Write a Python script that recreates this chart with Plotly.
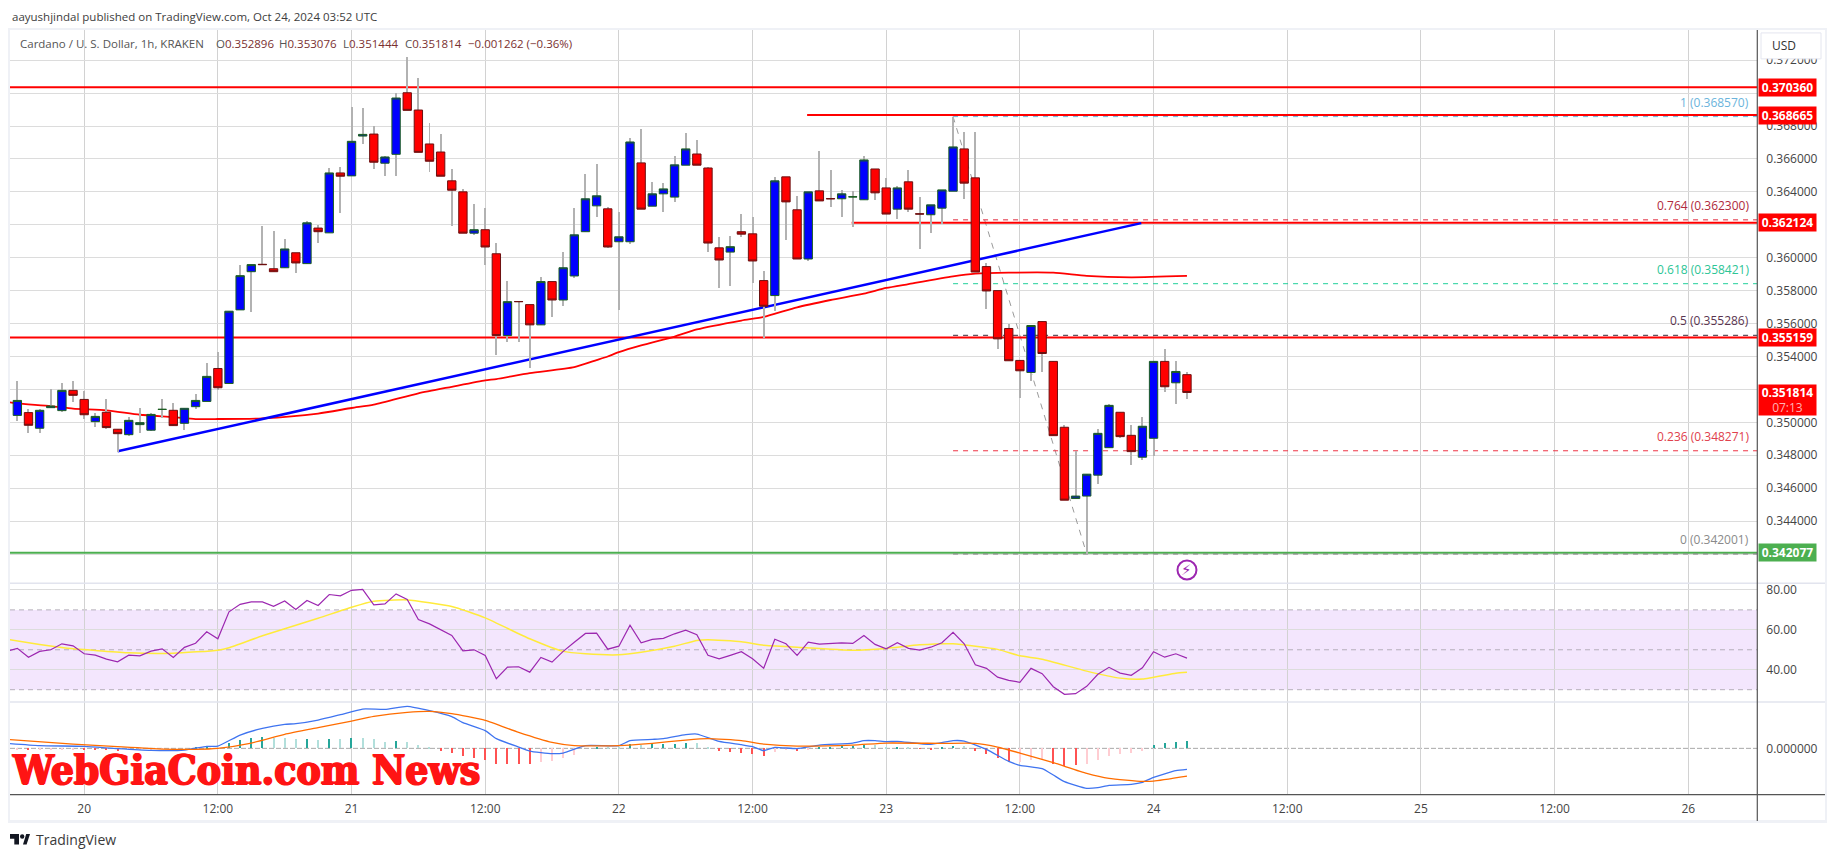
import plotly.graph_objects as go
import pandas as pd

W, H = 1835, 857
FONT = "Open Sans"

# ---------- data ----------
first_hour = -6
opens = [.35042,.35059,.34964,.35089,.35071,.35194,.35139,.35004,.35061,.34958,.34925,.34986,.34952,.35078,.35073,.34994,.35095,.35127,.35327,.35236,
.35683,.35915,.35960,.35933,.35939,.36030,.35964,.36180,.36151,.36515,.36497,.36739,.36751,.36574,.36628,.37002,.36897,.36691,.36642,.36467,.36400,
.36149,.36170,.36024,.35527,.35734,.35715,.35592,.35855,.35743,.35889,.36158,.36315,.36297,.36097,.36097,.36576,.36313,.36388,.36368,.36562,.36630,
.36545,.36060,.36034,.36158,.36145,.35861,.35770,.36491,.36291,.35992,.36406,.36359,.36358,.36369,.36352,.36539,.36424,.36295,.36461,.36267,.36261,
.36301,.36404,.36661,.36485,.35946,.35800,.35570,.35376,.35303,.35612,.35370,.34970,.34537,.34552,.34679,.34846,.35061,.34921,.34788,.34903,.35370,.35240,.352896]
highs = [.35250,.35083,.35083,.35200,.35238,.35250,.35190,.35057,.35141,.34958,.35030,.35085,.35059,.35141,.35117,.35085,.35170,.35360,.35428,.35675,
.35954,.35958,.36196,.36160,.36117,.36030,.36224,.36200,.36547,.36553,.36917,.36907,.36802,.36620,.36998,.37220,.37093,.36820,.36753,.36539,.36418,
.36325,.36305,.36091,.35857,.35740,.35715,.35885,.35855,.36038,.36305,.36509,.36570,.36309,.36281,.36729,.36784,.36463,.36457,.36620,.36760,.36715,
.36554,.36129,.36135,.36267,.36250,.35921,.36493,.36491,.36376,.36400,.36648,.36535,.36412,.36406,.36620,.36539,.36487,.36438,.36535,.36372,.36321,
.36412,.36857,.36766,.36766,.35968,.35800,.35598,.35376,.35588,.35618,.35370,.34984,.34824,.34685,.34960,.35109,.35061,.34984,.35032,.35370,.35444,.35370,.353076]
lows = [.35008,.34937,.34937,.35085,.35065,.35123,.35020,.34974,.34958,.34822,.34917,.34937,.34947,.35028,.34980,.34954,.35083,.35127,.35194,.35236,
.35683,.35671,.35955,.35915,.35939,.35907,.35964,.36089,.36151,.36270,.36497,.36689,.36537,.36499,.36499,.36895,.36640,.36523,.36495,.36190,.36149,
.36139,.35954,.35410,.35489,.35489,.35331,.35592,.35640,.35705,.35877,.36158,.36250,.36059,.35685,.36085,.36295,.36313,.36277,.36337,.36562,.36562,
.36038,.35816,.35826,.36125,.35846,.35513,.35675,.36105,.35992,.35978,.36345,.36311,.36250,.36184,.36352,.36349,.36265,.36238,.36277,.36053,.36150,
.36206,.36404,.36356,.35913,.35689,.35445,.35374,.35149,.35250,.35307,.34919,.34527,.34537,.34200,.34628,.34846,.34903,.34743,.34774,.34796,.35186,.35113,.351444]
closes = [.35133,.34982,.35073,.35099,.35194,.35164,.35046,.35036,.34968,.34931,.35012,.34998,.35048,.35079,.34980,.35085,.35133,.35279,.35210,.35675,
.35891,.35958,.35958,.35915,.36053,.35968,.36212,.36158,.36515,.36495,.36707,.36749,.36580,.36612,.36970,.36895,.36640,.36586,.36495,.36410,.36149,
.36170,.36065,.35527,.35733,.35733,.35592,.35855,.35743,.35939,.36139,.36358,.36376,.36065,.36127,.36703,.36295,.36388,.36418,.36564,.36661,.36562,
.36089,.35986,.36067,.36143,.35980,.35705,.36467,.36339,.35992,.36400,.36345,.36358,.36388,.36370,.36594,.36394,.36265,.36424,.36295,.36265,.36321,
.36412,.36673,.36453,.35913,.35798,.35507,.35374,.35313,.35588,.35418,.34919,.34527,.34552,.34685,.34933,.35103,.34913,.34822,.34976,.35370,.35216,.35309,.351814]

ema_hours = [-7,-6,-3,-1,2,5,8,10,12,16,21,24,26,30,33,36,37,40,44,46,47,48,50,53,55,59,61,64,67,70,72,74,78,80,83,87,90,94,99]
ema_vals = [.35125,.35115,.35099,.35083,.35073,.35046,.35032,.35020,.35020,.35024,.35053,.35087,.35107,.35176,.35216,.35255,.35263,.35299,.35335,.35378,.35400,
.35426,.35467,.35521,.35564,.35618,.35640,.35699,.35743,.35782,.35816,.35840,.35887,.35903,.35909,.35909,.35889,.35881,.35889]

trend_hours, trend_vals = [3, 94.9], [.34824, .36210]
levels_red = [(.370360, -7), (.368665, 64.9), (.362124, 68.9), (.355159, -7)]
level_green = .342077

fib_levels = [1, .764, .618, .5, .236, 0]
fib_prices = [.368570, .362300, .358421, .355286, .348271, .342001]
fib_colors = ["#6bb4dc", "#e0283c", "#22cf9b", "#3a2a3a", "#ee3344", "#808080"]
fib_text_colors = ["#6bb4dc", "#b02a3c", "#2cc596", "#5a3550", "#e0404c", "#8a8a8a"]
fib_diag_hours, fib_diag_vals = [78, 90], [.368570, .342001]

rsi_hours = list(range(-7, 100))
rsi_vals = [49.2,50.7,46.3,49.2,50,53,52,48,47.3,45.3,44,47.3,47,49.3,50.5,46.2,51.2,53.3,59,55.5,69,72.8,74,74,71.8,74.5,70.2,74.7,72.2,77.7,77,79.8,80.3,72.5,73,78,
75.2,65.2,63,60,57.2,49.5,50,47.2,35.5,41.3,41.5,38.8,46.2,43.8,49.2,53.8,58.2,58.3,50.3,51.8,62.3,53.5,55.2,55.7,58,59.8,57.5,47.2,45.5,47.2,49,45.5,40.8,55.3,53,47.2,
53.8,52.8,53,53.5,53.2,57.2,52.7,50.5,53.5,50.7,49.8,51.3,53.5,58.7,53,42.5,40.7,36.3,34.7,33.7,40.7,38,31.5,27.7,28,31.7,37.7,41.2,38.3,37.2,41,49,46.3,48,45.8]
rsi_ma_hours = [-7,-4,-1,1,4,8,12,13,16,21,24,26,29,33,36,40,43,45,48,50,53,55,56,59,61,64,69,72,75,78,82,84,86,90,93,95,98,99]
rsi_ma_vals = [55.3,52.7,50.5,49.7,48.5,48.3,49.8,51,57,65.8,71.3,74.3,75,71.7,66,55.5,49.2,48,47.5,48.8,51.8,54.7,55,54,52.3,51.3,49.8,50.7,52.5,53,50.2,47,45.3,39.3,35.8,35.3,38.2,38.7]

macd_hours = [-7,-4,0,3,6,9,11,12,14,16,18,19,21,23,25,27,29,31,33,34,36,37,39,40,42,43,45,48,49,51,52,54,55,57,59,60,61,62,64,66,69,70,71,72,73,76,78,79,81,83,84,86,87,88,90,91,92,94,95,96,98,99]
macd_vals = [5,2.7,2,-.3,-2,-1.7,2,2.3,13.3,20,24,24.7,28.3,33.7,39.3,39,42,37.7,31.7,25.7,17.7,9.7,1.3,-2.7,-5.3,-4.7,2.7,2.7,7.7,9,9.7,13.7,14.3,7,3.7,1.7,-2.3,1,-.3,3.3,5.3,7.7,7.7,6.7,7,4,7.7,7.3,-1,-13,-17,-20.3,-26.7,-33.3,-40,-39.3,-37,-36,-34,-29,-22.3,-21]
signal_hours = [-7,-1,3,7,10,12,15,18,21,24,26,29,31,33,36,39,42,44,48,51,54,56,59,61,64,69,72,77,80,82,84,87,90,92,95,96,99]
signal_vals = [9,4.3,1.7,-.7,-1,0,5.3,14,20.7,27.3,32,36,37,34.7,28,16,6,2.7,2.7,5,8.3,9.7,7.7,4.3,2.3,3.3,5.3,5,5,1.3,-4.7,-14.3,-25,-30,-33,-32.7,-27.7]

hist_vals = [-1,-2,-1,-1,-1,-1,-1,-2,-2,-3,-2,-1,-1,-.5,0,0,.5,1,0,5,8,10,11,10,10.3,9.7,9.3,8.3,9.3,9.3,10.3,10.3,9,6.7,7.3,6,3.3,1,-2.7,-4.7,-7.3,-9.3,-11.7,-15.7,-15.7,-15.7,-15.7,-13.3,-12.3,-9.3,-6.7,0,1.6,1,.5,
4,3.7,4.3,4.3,4.3,5.3,5.3,1.3,-2.7,-3.7,-4.7,-5.7,-7.3,-3.7,-1.7,-2.7,-1,1.7,1.7,2.3,2,3,3,1,1.3,.3,-.7,-1.7,.3,2.3,2.3,-2.7,-5.7,-9.7,-13.7,-14,-11.7,-10.3,-16,-17.7,-16.7,-15.7,-11.7,-7.7,-5.3,-4.3,-2.3,3.3,5.3,6,7.3]
hist_colors = ["#ffcdd2","#ff5252","#ffcdd2","#ffcdd2","#ffcdd2","#ffcdd2","#ff5252","#ff5252","#ff5252","#ff5252","#ffcdd2","#ffcdd2","#ffcdd2","#ffcdd2","#ffcdd2","#b2dfdb","#26a69a","#26a69a","#26a69a","#26a69a","#26a69a","#26a69a","#26a69a","#b2dfdb","#b2dfdb","#b2dfdb","#26a69a","#b2dfdb","#26a69a","#b2dfdb","#26a69a","#b2dfdb","#b2dfdb","#b2dfdb","#26a69a","#b2dfdb","#b2dfdb","#b2dfdb","#ff5252","#ff5252","#ff5252","#ff5252","#ff5252","#ff5252","#ff5252","#ff5252","#ff5252","#ffcdd2","#ffcdd2","#ffcdd2","#ffcdd2","#b2dfdb","#26a69a","#b2dfdb","#b2dfdb",
"#26a69a","#b2dfdb","#26a69a","#26a69a","#26a69a","#26a69a","#b2dfdb","#b2dfdb","#ff5252","#ff5252","#ff5252","#ff5252","#ff5252","#ffcdd2","#ffcdd2","#ff5252","#ffcdd2","#26a69a","#26a69a","#26a69a","#26a69a","#26a69a","#b2dfdb","#b2dfdb","#26a69a","#b2dfdb","#ff5252","#ff5252","#26a69a","#26a69a","#b2dfdb","#ff5252","#ff5252","#ff5252","#ff5252","#ffcdd2","#ffcdd2","#ffcdd2","#ff5252","#ff5252","#ff5252","#ffcdd2","#ffcdd2","#ffcdd2","#ffcdd2","#ffcdd2","#ffcdd2","#26a69a","#26a69a","#26a69a","#26a69a"]

price_ticks = [.342,.344,.346,.348,.350,.352,.354,.356,.358,.360,.362,.364,.366,.368,.370,.372]
# ticks whose labels lie fully behind a price tag in the reference
price_tick_labels = ["","0.344000","0.346000","0.348000","0.350000","","0.354000","0.356000","0.358000","0.360000","","0.364000","0.366000","0.368000","","0.372000"]
rsi_ticks = [80, 60, 40]
time_tick_hours = list(range(0, 145, 12))
time_tick_labels = ["20","12:00","21","12:00","22","12:00","23","12:00","24","12:00","25","12:00","26"]

# ---------- helpers ----------
T0 = pd.Timestamp("2024-10-20 00:00")
def t(hours):
    return [T0 + pd.Timedelta(hours=float(h)) for h in hours]
def px(x): return x / W
def py(y): return 1 - y / H

hrs = [first_hour + i for i in range(len(opens))]
xs = t(hrs)
X_START, X_END = -6.66, 150.2
xr = t([X_START, X_END])

fig = go.Figure()

# base subplot: drawings below candles
fig.add_trace(go.Scatter(x=t(fib_diag_hours), y=fib_diag_vals, mode="lines",
                         line=dict(color="#9a9a9a", width=1, dash="6px,6px")))
for p, start in levels_red:
    fig.add_trace(go.Scatter(x=t([start, X_END]), y=[p, p], mode="lines", line=dict(color="#ff0000", width=2)))
fig.add_trace(go.Scatter(x=t([-7, X_END]), y=[level_green]*2, mode="lines", line=dict(color="#4caf50", width=2)))
for p, c in zip(fib_prices, fib_colors):
    fig.add_trace(go.Scatter(x=t([78, X_END]), y=[p, p], mode="lines", line=dict(color=c, width=1, dash="5px,5px")))
fig.add_trace(go.Scatter(x=t(ema_hours), y=ema_vals, mode="lines", line=dict(color="#ff0000", width=1.8, shape="spline", smoothing=0.6)))
fig.add_trace(go.Scatter(x=t(trend_hours), y=trend_vals, mode="lines", line=dict(color="#0000ff", width=2.5)))

# overlay subplot: wicks and bodies
fig.add_trace(go.Bar(x=xs, base=lows, y=[h - l for h, l in zip(highs, lows)], width=3600000*0.09,
                     marker=dict(color="#b2b2b2", line=dict(width=0)), yaxis="y4"))
fig.add_trace(go.Candlestick(x=xs, open=opens, close=closes,
                             high=[max(o, c) for o, c in zip(opens, closes)],
                             low=[min(o, c) for o, c in zip(opens, closes)],
                             increasing=dict(fillcolor="#0000ff", line=dict(color="#1b5e20", width=1)),
                             decreasing=dict(fillcolor="#ff0000", line=dict(color="#6d1010", width=1)),
                             whiskerwidth=0, yaxis="y4"))

# purple event marker
fig.add_trace(go.Scatter(x=t([99]), y=[.34103], mode="markers", yaxis="y4",
                         marker=dict(size=19, color="rgba(0,0,0,0)", line=dict(color="#9c27b0", width=2))))

# RSI
fig.add_trace(go.Scatter(x=t(rsi_ma_hours), y=rsi_ma_vals, mode="lines", xaxis="x2", yaxis="y2",
                         line=dict(color="#ffeb3b", width=1.5, shape="spline", smoothing=0.5)))
fig.add_trace(go.Scatter(x=t(rsi_hours), y=rsi_vals, mode="lines", xaxis="x2", yaxis="y2",
                         line=dict(color="#9c27b0", width=1.2)))
# MACD
fig.add_trace(go.Bar(x=xs, y=hist_vals, width=3600000*0.1, marker=dict(color=hist_colors, line=dict(width=0)), xaxis="x3", yaxis="y3"))
fig.add_trace(go.Scatter(x=t(macd_hours), y=macd_vals, mode="lines", xaxis="x3", yaxis="y3",
                         line=dict(color="#3f74f0", width=1.3, shape="spline", smoothing=0.5)))
fig.add_trace(go.Scatter(x=t(signal_hours), y=signal_vals, mode="lines", xaxis="x3", yaxis="y3",
                         line=dict(color="#ff6d00", width=1.3, shape="spline", smoothing=0.5)))

TOP, SEP1, SEP2, BOT, LEFT, RIGHT = 28, 582.7, 701.7, 794.5, 10, 1757.3
xcommon = dict(range=xr, tickvals=t(time_tick_hours), showgrid=True, gridcolor="#d2d2d2", gridwidth=1,
               zeroline=False, showline=False, domain=[px(LEFT), px(RIGHT)], rangeslider=dict(visible=False), ticks="")
ycommon = dict(side="right", showgrid=True, gridcolor="#dcdcdc", gridwidth=1, zeroline=False, showline=False, ticks="",
               tickfont=dict(family=FONT, size=12, color="#444444"), ticklabelstandoff=8)
main_range = [.368 - (SEP1 - 124.3)/16500, .368 + (124.3 - TOP)/16500]

shapes = []
def rect(x0, y0, x1, y1, **k):
    shapes.append(dict(type="rect", xref="paper", yref="paper", x0=px(x0), x1=px(x1), y0=py(y0), y1=py(y1), **k))
def hline(x0, x1, y, color, width=1):
    shapes.append(dict(type="line", xref="paper", yref="paper", x0=px(x0), x1=px(x1), y0=py(y), y1=py(y), line=dict(color=color, width=width)))
def vline(x, y0, y1, color, width=1):
    shapes.append(dict(type="line", xref="paper", yref="paper", x0=px(x), x1=px(x), y0=py(y0), y1=py(y1), line=dict(color=color, width=width)))

# outer frame
FC = "#eff1f6"
rect(8, 26, 1827, 28, fillcolor=FC, line=dict(width=0))
rect(8, 820, 1827, 823, fillcolor=FC, line=dict(width=0))
rect(8, 26, 10, 823, fillcolor=FC, line=dict(width=0))
rect(1825, 26, 1827, 823, fillcolor=FC, line=dict(width=0))
hline(LEFT, 1825, SEP1, "#e2e4ee", 1.5)
hline(LEFT, 1825, SEP2, "#e2e4ee", 1.5)
hline(LEFT, 1825, BOT, "#555555", 1.2)
vline(RIGHT, TOP, 821, "#555555", 1.2)

# RSI band and reference levels
shapes.append(dict(type="rect", xref="x2 domain", yref="y2", x0=0, x1=1, y0=30, y1=70, layer="below",
                   fillcolor="rgba(135,5,235,0.1)", line=dict(width=0)))
for lv in (70, 50, 30):
    shapes.append(dict(type="line", xref="x2 domain", yref="y2", x0=0, x1=1, y0=lv, y1=lv, layer="below",
                       line=dict(color="#b5afba", width=1, dash="5px,4px")))
shapes.append(dict(type="line", xref="x3 domain", yref="y3", x0=0, x1=1, y0=0, y1=0, layer="below",
                   line=dict(color="#a8a8a8", width=1, dash="5px,2px")))

# USD button
shapes.append(dict(type="rect", xref="paper", yref="paper", x0=px(1761), x1=px(1821), y0=py(31), y1=py(57),
                   fillcolor="#ffffff", line=dict(color="#e4e6ef", width=1)))

# TradingView logo
def poly(pts, color="#131722"):
    p = "M " + " L ".join(f"{px(x)},{py(y)}" for x, y in pts) + " Z"
    shapes.append(dict(type="path", xref="paper", yref="paper", path=p, fillcolor=color, line=dict(width=0)))
poly([(10,834),(19,834),(19,844.5),(14.3,844.5),(14.3,838.6),(10,838.6)])
poly([(23,844.5),(26.2,834),(30,834),(26.6,844.5)])
shapes.append(dict(type="circle", xref="paper", yref="paper", x0=px(20), x1=px(24.4), y0=py(838.6), y1=py(834.2), fillcolor="#131722", line=dict(width=0)))

ann = []
def text(x, y, s, color="#444444", size=12, anchor="left", weight=None, family=FONT, shadow=None, **k):
    font = dict(family=family, size=size, color=color, weight=weight)
    if shadow:
        font["shadow"] = shadow
    ann.append(dict(xref="paper", yref="paper", x=px(x), y=py(y), text=s, showarrow=False, xanchor=anchor, yanchor="middle",
                    font=font, **k))

text(10, 15, "aayushjindal published on TradingView.com, Oct 24, 2024 03:52 UTC", "#3d3d3d", 11.5)
text(18, 42, "Cardano / U. S. Dollar, 1h, KRAKEN", "#555555", 11.5)
OC, VC = "#555555", "#7a3030"
for x, lab, val in [(213.5, "O", "0.352896"), (276.8, "H", "0.353076"), (340.8, "L", "0.351444"), (402.5, "C", "0.351814")]:
    text(x, 42, f'<span style="color:{OC}">{lab}</span>{val}', VC, 11.5)
text(465.8, 42, "−0.001262 (−0.36%)", VC, 11.5)

# fib labels
for lv, p, c in zip(fib_levels, fib_prices, fib_text_colors):
    ann.append(dict(xref="paper", yref="y", x=px(1750.5), y=p, yshift=4, text=f"{lv} ({p:.6f})", showarrow=False,
                    xanchor="right", yanchor="bottom", font=dict(family=FONT, size=12, color=c)))

# price tags
def tag(p, s, bg):
    ann.append(dict(xref="paper", yref="y", x=px(1757.7), y=p, text=f"<b>{s}</b>", showarrow=False, xanchor="left", yanchor="middle",
                    width=57, height=17, align="center", bgcolor=bg, borderpad=0, font=dict(family=FONT, size=12, color="#ffffff")))
for p, _ in levels_red:
    tag(p, f"{p:.6f}", "#ff0000")
tag(level_green, f"{level_green:.6f}", "#4caf50")
ann.append(dict(xref="paper", yref="y", x=px(1757.7), y=closes[-1], yshift=8, text="<b>0.351814</b><br><span style='color:#ffb3b3'>07:13</span>",
                showarrow=False, xanchor="left", yanchor="top", width=57, height=30, align="center", bgcolor="#ff0000", borderpad=0,
                font=dict(family=FONT, size=12, color="#ffffff")))

text(1770, 44, "USD", "#333333", 12)
ann.append(dict(xref="x", yref="y", x=t([99])[0], y=.34103, text="⚡", showarrow=False,
                font=dict(family="DejaVu Sans", size=15, color="#9c27b0")))
text(10, 770, "WebGiaCoin.com News", "#ff1414", 40.5, weight="bold", family="DejaVu Serif Condensed",
     shadow="1px 0 0 #ff1414, -1px 0 0 #ff1414, 0 1px 0 #ff1414")
text(33.6, 839, "TradingView", "#3a3a3a", 14)

fig.update_layout(
    width=W, height=H, autosize=False, margin=dict(l=0, r=0, t=0, b=0), paper_bgcolor="#ffffff", plot_bgcolor="#ffffff",
    showlegend=False, hovermode=False, barmode="overlay", boxgap=0.25, boxgroupgap=0, bargap=0,
    xaxis=dict(xcommon, anchor="y", showticklabels=False),
    xaxis2=dict(xcommon, anchor="y2", showticklabels=False, matches="x"),
    xaxis3=dict(xcommon, anchor="y3", matches="x", ticktext=time_tick_labels, ticklabelstandoff=5,
                tickfont=dict(family=FONT, size=12, color="#444444")),
    yaxis=dict(ycommon, domain=[py(SEP1), py(TOP)], range=main_range, tickvals=price_ticks, ticktext=price_tick_labels),
    yaxis4=dict(overlaying="y", side="right", matches="y", visible=False, showgrid=False),
    yaxis2=dict(ycommon, domain=[py(SEP2), py(SEP1)], range=[23.8, 83.3], tickvals=rsi_ticks, tickformat=".2f"),
    yaxis3=dict(ycommon, domain=[py(BOT), py(SEP2)], range=[-46.3, 46.3], tickvals=[0], ticktext=["0.000000"], showgrid=False),
    shapes=shapes, annotations=ann,
)
fig.write_html("out.html", config={"displayModeBar": False},
               post_script="document.body.style.margin='0';document.body.style.overflow='hidden';")
